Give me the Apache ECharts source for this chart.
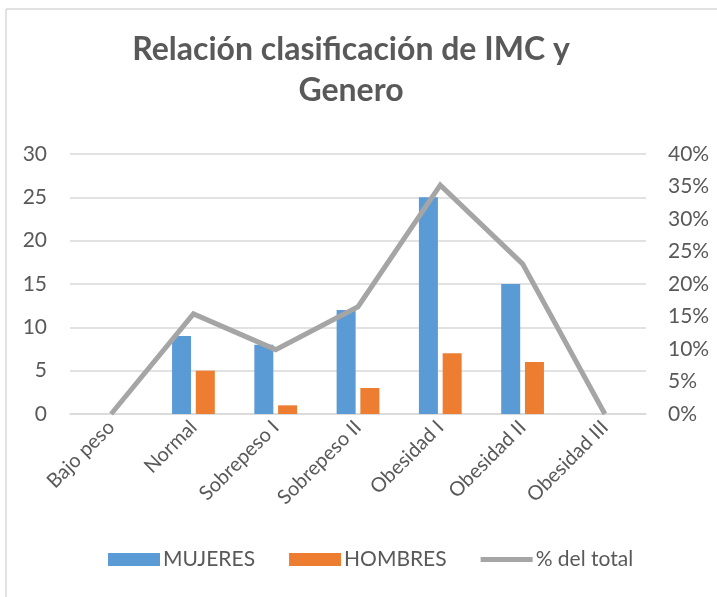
<!DOCTYPE html>
<html>
<head>
<meta charset="utf-8">
<script src="https://cdn.jsdelivr.net/npm/echarts@6/dist/echarts.min.js"></script>
<style>html,body{margin:0;padding:0;background:#fff}#c{width:717px;height:597px}</style>
</head>
<body>
<div id="c"></div>
<script>
var categories = ["Bajo peso", "Normal", "Sobrepeso I", "Sobrepeso II", "Obesidad I", "Obesidad II", "Obesidad III"];
var mujeres = [0, 9, 8, 12, 25, 15, 0];
var hombres = [0, 5, 1, 3, 7, 6, 0];
var pctTotal = [0, 0.154, 0.099, 0.165, 0.352, 0.231, 0];
var leftTicks = {min: 0, max: 30, interval: 5};
var rightTicks = {min: 0, max: 0.4, interval: 0.05};

var FONT = "Lato";
var TXT = "#595959";
var chart = echarts.init(document.getElementById('c'), null, {renderer: 'canvas'});
chart.setOption({
  animation: false,
  backgroundColor: '#fff',
  textStyle: {fontFamily: FONT},
  graphic: [
    {type: 'line', shape: {x1: 6, y1: 9, x2: 717, y2: 9}, style: {stroke: '#D9D9D9', lineWidth: 1.5}},
    {type: 'line', shape: {x1: 6, y1: 9, x2: 6, y2: 597}, style: {stroke: '#D9D9D9', lineWidth: 1.5}}
  ],
  title: {
    text: 'Relación clasificación de IMC y\nGenero',
    left: 346,
    textAlign: 'center',
    top: 24,
    textStyle: {fontFamily: FONT, fontWeight: 'bold', fontSize: 32, color: TXT, lineHeight: 41}
  },
  legend: {
    bottom: 22,
    left: 103,
    itemWidth: 52,
    itemHeight: 13,
    itemGap: 34,
    textStyle: {fontFamily: FONT, fontSize: 21, color: TXT, padding: [0, 0, 0, -2]},
    data: [
      {name: 'MUJERES', icon: 'rect'},
      {name: 'HOMBRES', icon: 'rect'},
      {name: '% del total', icon: 'path://M0,0 L52,0 L52,5 L0,5 Z'}
    ]
  },
  grid: {left: 70, right: 71, top: 154, bottom: 183, containLabel: false},
  xAxis: {
    type: 'category',
    data: categories,
    axisLine: {lineStyle: {color: '#D9D9D9', width: 1.5}},
    axisTick: {show: false},
    axisLabel: {rotate: 45, fontSize: 20, color: TXT, fontFamily: FONT, margin: 10, interval: 0}
  },
  yAxis: [
    {
      type: 'value', min: leftTicks.min, max: leftTicks.max, interval: leftTicks.interval,
      axisLine: {show: false}, axisTick: {show: false},
      splitLine: {lineStyle: {color: '#D9D9D9', width: 1.5}},
      axisLabel: {fontSize: 21, color: TXT, fontFamily: FONT, margin: 23}
    },
    {
      type: 'value', min: rightTicks.min, max: rightTicks.max, interval: rightTicks.interval,
      axisLine: {show: false}, axisTick: {show: false}, splitLine: {show: false},
      axisLabel: {fontSize: 21, color: TXT, fontFamily: FONT, margin: 22,
        formatter: function (v) { return Math.round(v * 100) + '%'; }}
    }
  ],
  series: [
    {name: 'MUJERES', type: 'bar', data: mujeres, barWidth: 19, barGap: '25%', itemStyle: {color: '#5B9BD5'}},
    {name: 'HOMBRES', type: 'bar', data: hombres, barWidth: 19, barGap: '25%', itemStyle: {color: '#ED7D31'}},
    {name: '% del total', type: 'line', yAxisIndex: 1, data: pctTotal, showSymbol: false, symbol: 'none',
      lineStyle: {color: '#A5A5A5', width: 5, join: 'miter'}, itemStyle: {color: '#A5A5A5'}}
  ]
});
</script>
</body>
</html>
